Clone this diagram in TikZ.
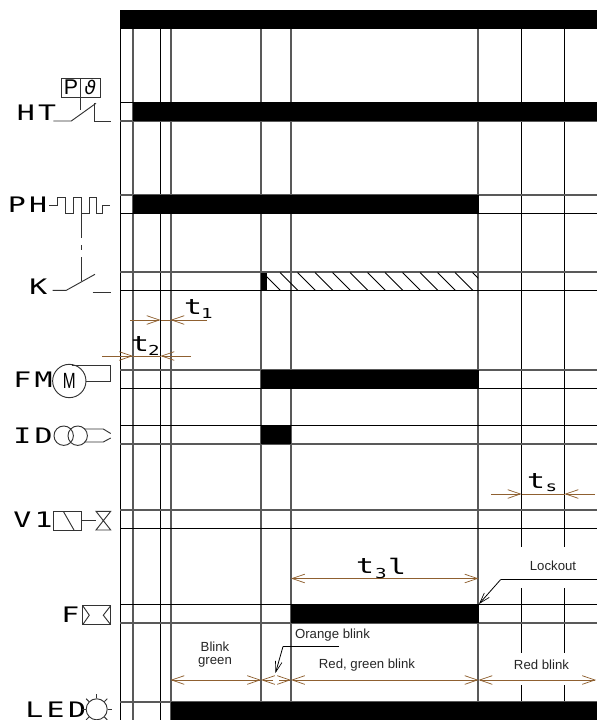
\documentclass[tikz,border=0pt]{standalone}
\usepackage{fontspec}
\usetikzlibrary{arrows.meta}
\newfontfamily\sigfont[FakeStretch=1.4,LetterSpace=16]{DejaVu Sans Mono}
\newfontfamily\timefont[FakeStretch=1.4]{DejaVu Sans Mono}
\newfontfamily\narrowfont[FakeStretch=0.7]{Liberation Sans}
\newfontfamily\notefont{Liberation Sans}
\newfontfamily\thetafont{DejaVu Sans}
\tikzset{
    barb tip/.tip={Straight Barb[length=9.5pt,width=6.5pt,line width=0.55pt]},
    sig label/.style={
        anchor=west,
        inner sep=0pt,
        font=\sigfont\fontsize{16}{16}\selectfont
    },
    time label/.style={
        inner sep=0pt,
        font=\timefont\fontsize{16}{16}\selectfont
    },
    time sub/.style={
        inner sep=0pt,
        font=\timefont\fontsize{10.3}{10.3}\selectfont
    },
    note label/.style={
        inner sep=0pt,
        align=center,
        text=black!85,
        font=\notefont\fontsize{9.9}{10.2}\selectfont
    },
    grey rule/.style={
        draw=black!65,
        line width=1.2pt
    },
    black rule/.style={
        draw=black,
        line width=0.75pt
    },
    symbol line/.style={
        draw=black!80,
        line width=0.7pt
    },
    span line/.style={
        draw=brown!75!black,
        line width=0.75pt,
        barb tip-barb tip
    },
    tick line/.style={
        draw=brown!75!black,
        line width=0.75pt,
        -barb tip
    },
    plain tick/.style={
        draw=brown!75!black,
        line width=0.75pt
    },
    lead line/.style={
        draw=black,
        line width=0.6pt,
        -{Straight Barb[length=8pt,width=5pt,line width=0.5pt]}
    },
    active bar/.style={
        fill=black
    }
}
\begin{document}
\begin{tikzpicture}[x=0.75pt,y=-0.75pt]
    \useasboundingbox (0,0) rectangle (597,720);
    \clip (0,0) rectangle (597,720);
    % grid of the chart
    \foreach \px in {133,171,261,291,478}
        \draw[grey rule] (\px,29) -- (\px,720);
    \foreach \px in {120.5,160.5}
        \draw[black rule] (\px,29) -- (\px,720);
    \foreach \px in {521.5,564.5}{
        \draw[black rule] (\px,29) -- (\px,547);
        \draw[black rule] (\px,588) -- (\px,653);
        \draw[black rule] (\px,685) -- (\px,702);
    }
    \foreach \py in {121,195,272,370,444,510,623,702}
        \draw[grey rule] (120,\py) -- (597,\py);
    \foreach \py in {102.5,213.5,290.5,388.5,425.5,528.5,604.5}
        \draw[black rule] (120,\py) -- (597,\py);
    % active periods
    \fill[active bar] (120,10) rectangle (597,29);
    \fill[active bar] (133,102) rectangle (597,121);
    \fill[active bar] (133,195) rectangle (478.5,213);
    \fill[active bar] (261,272.5) rectangle (267,290.5);
    \fill[active bar] (261,370) rectangle (478.5,388);
    \fill[active bar] (261,425) rectangle (291,444);
    \fill[active bar] (291,604) rectangle (478.5,623);
    \fill[active bar] (170.5,702) rectangle (597,720);
    \begin{scope}
        \clip (267,272.5) rectangle (478,290.5);
        \foreach \hatch in {0,...,12}
            \draw[line width=0.6pt] (262.5+17.5*\hatch,272.5) -- ++(18,18);
    \end{scope}
    % signal names
    \node[sig label] (HT) at (16.5,112.5) {HT};
    \node[sig label] (PH) at (7.5,204.5) {PH};
    \node[sig label] (K) at (29,286.5) {K};
    \node[sig label] (FM) at (13,380) {FM};
    \node[sig label] (ID) at (13,436) {ID};
    \node[sig label] (V1) at (13,520) {V1};
    \node[sig label] (F) at (61,614.5) {F};
    \node[sig label] (LED) at (25,709.5) {LED};
    % HT symbol
    \draw[symbol line] (61.5,78.5) rectangle (100,97);
    \draw[symbol line] (80.7,78.5) -- (80.7,110);
    \node[inner sep=0pt,font=\notefont\fontsize{16}{16}\selectfont] (HTp) at (71,87.5) {P};
    \node[inner sep=0pt,font=\thetafont\itshape\fontsize{14}{14}\selectfont] (HTtheta) at (90.5,87.5) {ϑ};
    \draw[symbol line] (53.3,121) -- (71.3,121) -- (96,103.3);
    \draw[symbol line] (94.3,103.3) -- (94.3,121) -- (110.7,121);
    % PH symbol
    \draw[symbol line] (49.3,205.3) -- (57.3,205.3) -- (57.3,197.3) -- (65.7,197.3) -- (65.7,213.3) -- (73.3,213.3) -- (73.3,197.3) -- (81.7,197.3) -- (81.7,213.3) -- (89.3,213.3) -- (89.3,197.3) -- (96.7,197.3) -- (96.7,213.3) -- (102.7,213.3) -- (102.7,205.3) -- (110,205.3);
    \draw[symbol line] (81.7,213.3) -- (81.7,237.5);
    \draw[symbol line] (81.7,245) -- (81.7,250);
    \draw[symbol line] (81.7,257) -- (81.7,281);
    % K symbol
    \draw[symbol line] (52.7,290.3) -- (66.3,290.3) -- (95,274.3);
    \draw[symbol line] (92.7,292) -- (110.7,292);
    % FM symbol
    \node[circle,symbol line,minimum size=25pt,inner sep=0pt,font=\narrowfont\fontsize{16.5}{16.5}\selectfont] (FMm) at (69.3,381) {M};
    \draw[symbol line] (72,365) -- (110.5,365) -- (110.5,381) -- (FMm.east);
    % ID symbol
    \draw[symbol line] (63.7,435.7) circle[radius=9.7];
    \draw[symbol line] (77.7,435.7) circle[radius=9.7];
    \draw[symbol line] (84,429) -- (103.3,429) -- (110.7,433.5);
    \draw[symbol line] (84,442) -- (103.3,442) -- (110.7,438);
    % V1 symbol
    \draw[symbol line] (53.7,511.3) rectangle (81.7,530);
    \draw[symbol line] (63.3,511.3) -- (74,530);
    \draw[symbol line] (81.7,520.5) -- (96,520.5);
    \draw[symbol line] (96,511.3) -- (110.7,530) -- (96,530) -- (110.7,511.3) -- cycle;
    % F symbol
    \draw[symbol line] (82.7,605.7) rectangle (110.7,624.7);
    \draw[symbol line] (82.7,605.7) -- (89.3,615.2) -- (82.7,624.7);
    \draw[symbol line] (110.7,605.7) -- (103.3,615.2) -- (110.7,624.7);
    % LED symbol
    \draw[symbol line] (96.7,709.3) circle[radius=10.5];
    \foreach \ang in {0,45,90,135,180,225,270,315}
        \draw[symbol line] (96.7,709.3) ++(\ang:11) -- ++(\ang:4);
    % timing marks
    \coordinate (t1a) at (130,320);
    \coordinate (t1b) at (160.5,320);
    \coordinate (t1c) at (170.5,320);
    \coordinate (t1d) at (207,320);
    \coordinate (t2a) at (102,356);
    \coordinate (t2b) at (133,356);
    \coordinate (t2c) at (160.5,356);
    \coordinate (t2d) at (191,356);
    \coordinate (tsa) at (491,494);
    \coordinate (tsb) at (521.5,494);
    \coordinate (tsc) at (564.5,494);
    \coordinate (tsd) at (595,494);
    \coordinate (t3a) at (291,578.5);
    \coordinate (t3b) at (478.5,578.5);
    \coordinate (L1) at (170.5,680);
    \coordinate (L2) at (261,680);
    \coordinate (L3) at (273,680);
    \coordinate (L4) at (279,680);
    \coordinate (L5) at (291,680);
    \coordinate (L6) at (478.5,680);
    \coordinate (L7) at (596,680);
    \draw[tick line] (t1a) -- (t1b);
    \draw[plain tick] (t1b) -- (t1c);
    \draw[tick line] (t1d) -- (t1c);
    \draw[tick line] (t2a) -- (t2b);
    \draw[plain tick] (t2b) -- (t2c);
    \draw[tick line] (t2d) -- (t2c);
    \draw[tick line] (tsa) -- (tsb);
    \draw[plain tick] (tsb) -- (tsc);
    \draw[tick line] (tsd) -- (tsc);
    \draw[span line] (t3a) -- (t3b);
    \draw[span line] (L1) -- (L2);
    \draw[tick line] (L3) -- (L2);
    \draw[tick line] (L4) -- (L5);
    \draw[span line] (L5) -- (L6);
    \draw[span line] (L6) -- (L7);
    % timing names
    \node[time label] (t1) at (193,307) {t};
    \node[time sub] (t1sub) at (207,313) {1};
    \node[time label] (t2) at (140,344) {t};
    \node[time sub] (t2sub) at (154,350) {2};
    \node[time label] (ts) at (536,481) {t};
    \node[time sub] (tssub) at (551.5,488) {s};
    \node[time label] (t3) at (365,566.5) {t};
    \node[time sub] (t3sub) at (381,573) {3};
    \node[time label] (t3l) at (397,566) {l};
    % notes
    \node[note label] (lockout) at (553,565.5) {Lockout};
    \node[note label] (orange) at (332.5,635.5) {Orange blink};
    \node[note label] (blink) at (215,654.5) {Blink\\green};
    \node[note label] (redgreen) at (367,665) {Red, green blink};
    \node[note label] (red) at (541.5,665) {Red blink};
    \coordinate (lockA) at (597,579.5);
    \coordinate (lockB) at (500.7,579.5);
    \coordinate (lockC) at (479,604);
    \coordinate (orA) at (339,646.5);
    \coordinate (orB) at (283,646.5);
    \coordinate (orC) at (275.5,673);
    \draw[draw=black,line width=0.6pt] (lockA) -- (lockB);
    \draw[lead line] (lockB) -- (lockC);
    \draw[draw=black,line width=0.6pt] (orA) -- (orB);
    \draw[lead line] (orB) -- (orC);
\end{tikzpicture}
\end{document}
